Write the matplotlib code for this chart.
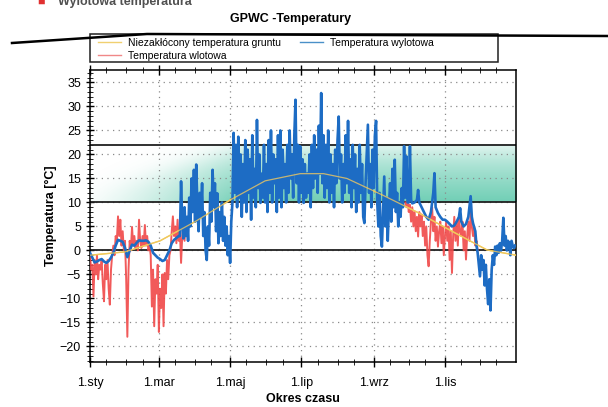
import numpy as np
import matplotlib.pyplot as plt
from matplotlib.lines import Line2D
from matplotlib.patches import Rectangle

plt.rcParams['font.family'] = ['Liberation Sans', 'DejaVu Sans']

# dzien roku (0 = 1 stycznia)
month_starts = [0, 31, 59, 90, 120, 151, 181, 212, 243, 273, 304, 334]
label_days = [0, 59, 120, 181, 243, 304]
month_labels = ['1.sty', '1.mar', '1.maj', '1.lip', '1.wrz', '1.lis']

band_low = 10
band_high = 22

# niezaklocona temperatura gruntu
ground_days = [0, 30, 60, 90, 120, 150, 180, 200, 220, 250, 280, 310, 340, 365]
ground_temp = [-1, -0.3, 2, 6, 10.5, 14.5, 16, 16, 15, 11.6, 8, 4, 0.1, -1]

# temperatura wylotowa (po GPWC)
out_days = [0, 2, 4, 6, 8, 10, 12, 14, 16, 18, 20, 22, 24, 26, 28, 30, 32, 34, 36, 38,
            40, 42, 44, 46, 48, 50, 52, 54, 56, 58, 60, 62, 64, 66, 68, 70, 72, 74, 76] + \
           list(range(77, 273)) + \
           [273, 274, 275, 276, 278, 280, 281, 282, 284, 286, 288, 290, 292, 294, 295, 296,
            298, 300, 302, 304, 306, 308, 310, 312, 314, 316, 317, 318, 320, 322, 324, 326,
            327, 328, 330, 331] + list(range(332, 365))
out_temp = [-0.5, -1.5, -2.5, -2.3, -2.0, -1.8, -2.3, -2.6, -2.2, -1.5, -0.5, 1.0, 2.2, 2.0,
            1.8, 0.5, -1.4, 0.0, 1.2, 1.0, 1.6, 2.1, 2.0, 2.0, 2.1, 1.8, 1.0, -0.5, -1.0, -1.5,
            -1.8, -2.2, -2.0, -1.0, 0.0, 1.5, 2.2, 2.6, 3.0,
            # 77 - 272
            3, 14.4, 6, 2.5, 9, 3, 7, 2, 11, 5, 15, 8, 16.8, 6, 17.9, 9, 4, 12, 7, 14,
            3, 8, 0, -2, 5, 1, 12, 6, 16.8, 9, 14, 4, 11.9, 1.5, 8, 3, 10, 2, 7, 1,
            5, -1, 3, -2.6, 6, 10, 24.5, 12, 22, 9, 23.7, 11, 20, 7, 18, 10, 23, 8, 21, 12,
            19, 6.4, 24, 11, 17, 9, 27.2, 13, 20, 9.9, 16, 11, 22, 10, 18, 8, 23, 12, 25, 10,
            20, 14, 19, 8, 24, 11, 25, 9, 21, 13, 18, 10, 22, 12, 25, 15, 20, 11, 24, 31.4,
            14, 22, 10, 21.7, 12, 19, 9.9, 18, 11, 16, 12, 20, 9, 22, 13, 24, 15, 21, 12, 26,
            16, 32.8, 14, 24, 11, 22, 13, 25, 10, 20, 12, 18, 9, 21, 14, 23, 27.9, 15, 20, 10,
            18, 12, 24, 14, 27, 12, 19, 9, 22, 13, 20, 8, 17, 10, 22, 12, 18, 7, 5.7, 14,
            20, 26.2, 12, 18, 9, 21, 13, 24, 27, 10, 5, 12, 3, 0.8, 8, 15.4, 5, 11, 2, 9,
            14, 6, 17, 9, 18.9, 8, 12, 5, 10, 7, 13, 9, 21.7, 11, 19.6, 10,
            # 273 - 331
            10, 21.7, 10.5, 9.8, 10, 10.5, 12.6, 10, 9, 8, 7, 6.4, 8, 12, 16.1, 9,
            7.8, 7, 6.4, 6.4, 6, 5.5, 5, 5.2, 6, 7, 8.8, 6, 5, 5.5, 7, 11.3,
            7, 5.7, 4, 1,
            # 332 - 364
            -0.5, -3, -5.4, -1, -4, -2, -7.3, -3, -8, -11.2, -6, -12.5, -4, -1, -3, 0.8, -1,
            1, -0.5, 1.5, 0, 2, 6.8, 1, 3, 0, 2, 1.5, -1, 2, 1, 0.5, 1]

# temperatura wlotowa (powietrze zewnetrzne) - widoczna zima i jesienia
in_days = list(range(0, 84)) + [np.nan] + list(range(270, 333))
in_temp = [-1, -4, -3, -9.6, -2, -5, -1, -6, -3, -4, -2, -7, -10.6, -3, -6, -2, -8, -11.3,
           -4, -1, 1, -1, 3, 2, 7.1, 3, 6.4, 1, 4, 0, 2, -6, -18, -4, 2, 0, 4.9, 1, 3, 0.5,
           2, 0, 6.4, 2, 0.5, 3, 1, 5.3, 1, 3, 0, 1, -1, -11.7, -4, -15.8, -6, -9, -3, -17,
           -8, -12, -5, -15.8, -4.7, -9, -2, -6, -1, 0, 4, 7.1, 3, 5, 1.5, 6.4, 2, 4, -2.6,
           3, 5, 2, 6, 3,
           np.nan,
           10, 9, 10.5, 8, 9.5, 6, 9, 5, 8, 4, 7, 2.9, 8, 5, 7.5, 3, 6, 1, 5, -1, -3.3, 2,
           6, 9, 4, 7, 2, 5, 0.8, 4, 6, 1.5, 5, -1, 3, 6, 2, 5, -2, 4, -4.7, 3, 7, 2, 6, 1,
           7, 4, 3, 6, 0, 4, -1.9, 3, 6, 2, 8, 5, 3, 5, 1, 2, 0]

fig = plt.figure(figsize=(6.08, 4.07), dpi=100)
ax = fig.add_axes([0.148, 0.110, 0.701, 0.718])

# zielone pole komfortu z gradientem
nx, ny = 365, 120
gx = np.linspace(0, 365, nx)
gy = np.linspace(band_low, band_high, ny)
X, Y = np.meshgrid(gx, gy)
ramp = np.clip(X / 130.0, 0, 1)
top = 12.0 + 10.0 * ramp
alpha = (0.08 + 0.92 * ramp ** 1.3) * (0.32 + 0.5 * (band_high - Y) / (band_high - band_low))
alpha = alpha / (1 + np.exp((Y - top) / 1.5))
rgba = np.zeros((ny, nx, 4))
rgba[..., 0] = 0.32
rgba[..., 1] = 0.77
rgba[..., 2] = 0.65
rgba[..., 3] = alpha
ax.imshow(rgba, extent=[0, 365, band_low, band_high], origin='lower',
          aspect='auto', zorder=1, interpolation='bilinear')

for yv in [0, band_low, band_high]:
    ax.axhline(yv, color='#202020', lw=1.3, zorder=2)

ax.plot(in_days, in_temp, color='#f04848', lw=1.4, alpha=0.9, zorder=3)
ax.plot(ground_days, ground_temp, color='#f0c850', lw=1.0, zorder=4)
ax.plot(out_days, out_temp, color='#1d6cc4', lw=1.9, zorder=5)
ax.plot(ground_days, ground_temp, color='#f0c860', lw=0.9, alpha=0.8, zorder=6)

ax.set_xlim(0, 365)
ax.set_ylim(-23.3, 37.6)
ax.set_xticks(label_days)
ax.set_xticklabels(month_labels, fontsize=9)
ax.set_xticks(month_starts + [d + 14 for d in month_starts], minor=True)
ax.set_yticks(np.arange(-20, 36, 5))
ax.set_yticks(np.arange(-23, 38, 1), minor=True)
ax.tick_params(axis='y', labelsize=9, direction='inout', length=6, width=1)
ax.tick_params(axis='y', which='minor', direction='inout', length=4)
ax.tick_params(axis='x', direction='inout', length=7, width=1, top=True, pad=7)
ax.tick_params(axis='x', which='minor', direction='inout', length=5, top=True)
ax.grid(True, which='major', color='#8a8a8a', linestyle=(0, (1, 3.5)), lw=0.9)
for s in ax.spines.values():
    s.set_linewidth(1.1)

ax.set_ylabel('Temperatura [°C]', fontsize=9, fontweight='bold', labelpad=2)
ax.set_xlabel('Okres czasu', fontsize=9, fontweight='bold', labelpad=3)

fig.text(0.478, 0.953, 'GPWC -Temperatury', ha='center', va='center',
         fontsize=9, fontweight='bold')
fig.text(0.095, 0.995, 'Wylotowa temperatura', ha='left', va='center',
         fontsize=9, fontweight='bold', color='#505050')
fig.text(0.062, 0.995, '■', ha='left', va='center', fontsize=9, color='#e03030')

# ramka legendy
fig.add_artist(Rectangle((90 / 608, 1 - 62 / 407), 408 / 608, 28 / 407,
                         transform=fig.transFigure, fill=False, edgecolor='#202020', lw=1.1))
handles = [Line2D([], [], color='#f0d070', lw=1),
           Line2D([], [], color='#f08888', lw=1),
           Line2D([], [], color='#4a90c8', lw=1)]
labels = ['Niezakłócony temperatura gruntu', 'Temperatura wlotowa', 'Temperatura wylotowa']
fig.legend(handles, labels, ncol=2, loc='upper left',
           bbox_to_anchor=(98 / 608, 1 - 37.5 / 407),
           fontsize=7.5, frameon=False, handlelength=2.2,
           borderpad=0, labelspacing=0.35, handletextpad=0.7, columnspacing=1.8,
           borderaxespad=0)

# linia ze skanu
fig.add_artist(Line2D([12 / 608, 147 / 608, 1.0], [1 - 43 / 407, 1 - 34 / 407, 1 - 36 / 407],
                      transform=fig.transFigure, color='black', lw=1.8))

fig.savefig('out.png', dpi=100)
